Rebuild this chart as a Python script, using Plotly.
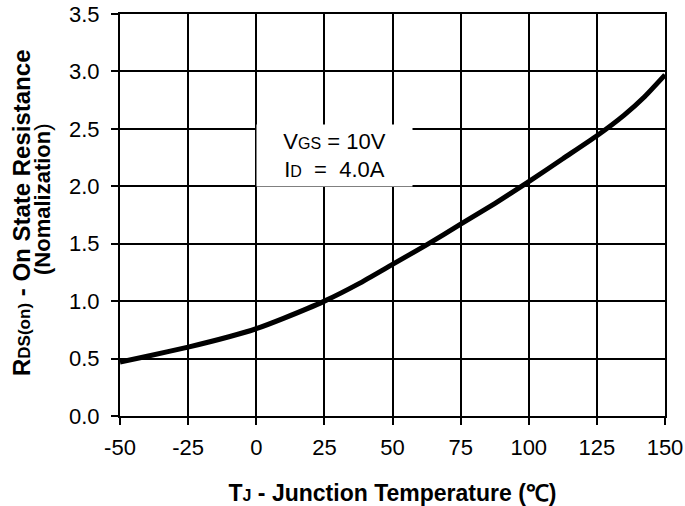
import plotly.graph_objects as go

# Normalized on-resistance vs junction temperature
temp_c = [-50, -40, -25, -10, 0, 10, 25, 37.5, 50, 62.5, 75, 87.5, 100, 112.5, 125, 135, 142.5, 150]
rds_norm = [0.47, 0.52, 0.60, 0.69, 0.76, 0.85, 1.00, 1.15, 1.32, 1.49, 1.67, 1.85, 2.04, 2.24, 2.44, 2.62, 2.78, 2.97]

x_ticks = [-50, -25, 0, 25, 50, 75, 100, 125, 150]
y_ticks = [0.0, 0.5, 1.0, 1.5, 2.0, 2.5, 3.0, 3.5]

font_family = "Liberation Sans, Arial, sans-serif"

fig = go.Figure()
fig.add_trace(go.Scatter(
    x=temp_c, y=rds_norm, mode="lines",
    line=dict(color="black", width=5, shape="spline", smoothing=0.6),
    showlegend=False, hoverinfo="skip",
))

# Test-condition label on a white box over the grid
fig.add_annotation(
    x=28.7, y=2.27, xref="x", yref="y",
    text=("V<span style='font-size:16px'>GS</span> = 10V<br>"
          "I<span style='font-size:16px'>D</span>&nbsp; =&nbsp; 4.0A"),
    showarrow=False, align="center", width=155, height=61,
    font=dict(family=font_family, size=22, color="black"),
    bgcolor="white", borderpad=0,
)

# Y-axis title: two rotated lines set closely together
fig.add_annotation(
    x=0, y=0.5, xref="paper", yref="paper", xanchor="center", yanchor="middle",
    xshift=-99, yshift=2,
    text="<b>R<span style='font-size:17px'>DS(on)</span> - On State Resistance</b>",
    textangle=-90, showarrow=False,
    font=dict(family=font_family, size=24, color="black"),
)
fig.add_annotation(
    x=0, y=0.5, xref="paper", yref="paper", xanchor="center", yanchor="middle",
    xshift=-78, yshift=16,
    text="<b>(Nomalization</b>)",
    textangle=-90, showarrow=False,
    font=dict(family=font_family, size=22, color="black"),
)

axis_common = dict(
    showgrid=True, gridcolor="black", gridwidth=1.6,
    showline=True, linecolor="black", linewidth=2.2, mirror=True,
    ticks="outside", ticklen=7, tickcolor="black", tickwidth=1.6,
    zeroline=False,
    tickfont=dict(family=font_family, size=22, color="black"),
)

fig.update_xaxes(
    range=[-50, 150], tickvals=x_ticks, ticktext=[str(v) for v in x_ticks],
    ticklabelstandoff=3,
    title=dict(text="<b>T<span style='font-size:16px'>J</span> - Junction Temperature (℃)</b>",
               font=dict(family=font_family, size=23, color="black"), standoff=26),
    **axis_common,
)
fig.update_yaxes(
    range=[0, 3.5], tickvals=y_ticks, ticktext=[f"{v:.1f}" for v in y_ticks],
    ticklabelstandoff=7,
    **axis_common,
)

fig.update_layout(
    width=685, height=506,
    margin=dict(l=120, r=20, t=14, b=90, autoexpand=False),
    paper_bgcolor="white", plot_bgcolor="white",
)

fig.write_html("out.html")
